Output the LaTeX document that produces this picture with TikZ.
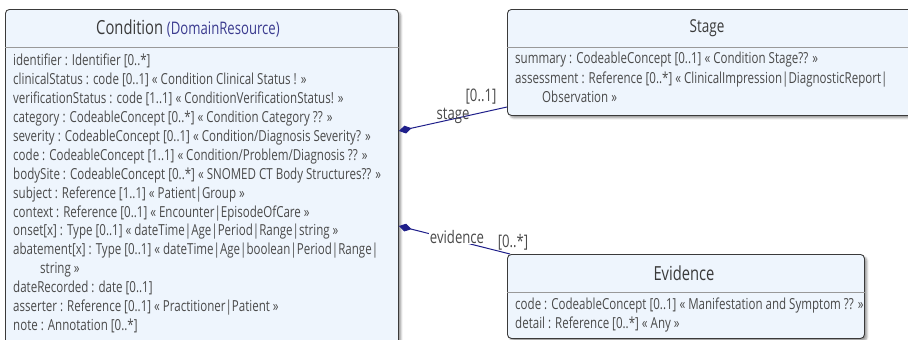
\documentclass[tikz,border=0pt]{standalone}
\usepackage{fontspec}
\setmainfont{Open Sans}[FakeStretch=0.76]
\usetikzlibrary{arrows.meta,shadows.blur}
\definecolor{boxfill}{HTML}{EEF5FD}
\definecolor{boxline}{HTML}{3A3A3A}
\definecolor{attrtext}{HTML}{4A4A4A}
\definecolor{assoccol}{HTML}{1F1F8A}
\definecolor{parentcol}{HTML}{3B3B8F}
\tikzset{
  umlbox/.style={draw=boxline, line width=0.9pt, fill=boxfill, rounded corners=4pt,
    anchor=north west, inner sep=0pt,
    blur shadow={shadow xshift=2.5pt, shadow yshift=-2.5pt, shadow blur steps=6, shadow blur radius=2pt}},
  divider/.style={draw=gray!80, line width=1pt},
  title/.style={font=\fontsize{19.4}{22}\selectfont, text=boxline},
  attrs/.style={anchor=north west, inner sep=0pt, align=left, text=attrtext,
    font=\fontsize{15.2}{18.9}\selectfont},
  assoc/.style={draw=assoccol, line width=1pt},
  rolelabel/.style={text=attrtext, font=\fontsize{17.3}{19}\selectfont, inner sep=0.5pt}
}
\begin{document}
\begin{tikzpicture}[x=1pt,y=-1pt]
  \useasboundingbox (0,0) rectangle (908,340);

  % classes
  \node[umlbox, minimum width=393pt, minimum height=341pt] (cond) at (5,9) {};
  \node[umlbox, minimum width=405pt, minimum height=106pt] (stage) at (507,9) {};
  \node[umlbox, minimum width=357pt, minimum height=84pt] (evid) at (507,254) {};

  \draw[divider] ([yshift=-38pt]cond.north west) -- ([yshift=-38pt]cond.north east);
  \draw[divider] ([yshift=-38pt]stage.north west) -- ([yshift=-38pt]stage.north east);
  \draw[divider] ([yshift=-38pt]evid.north west) -- ([yshift=-38pt]evid.north east);

  \node[title] (condT) at (188,28) {Condition {\fontsize{17.3}{20}\selectfont\color{parentcol}(DomainResource)}};
  \node[title, font=\fontsize{17.8}{21}\selectfont] (stageT) at (707,28) {Stage};
  \node[title] (evidT) at (684,273) {Evidence};

  \node[attrs] (condA) at (13,54) {identifier : Identifier [0..*]\\
    clinicalStatus : code [0..1] « Condition Clinical Status ! »\\
    verificationStatus : code [1..1] « ConditionVerificationStatus! »\\
    category : CodeableConcept [0..*] « Condition Category ?? »\\
    severity : CodeableConcept [0..1] « Condition/Diagnosis Severity? »\\
    code : CodeableConcept [1..1] « Condition/Problem/Diagnosis ?? »\\
    bodySite : CodeableConcept [0..*] « SNOMED CT Body Structures?? »\\
    subject : Reference [1..1] « Patient|Group »\\
    context : Reference [0..1] « Encounter|EpisodeOfCare »\\
    onset[x] : Type [0..1] « dateTime|Age|Period|Range|string »\\
    abatement[x] : Type [0..1] « dateTime|Age|boolean|Period|Range|\\
    \hspace*{27pt}string »\\
    dateRecorded : date [0..1]\\
    asserter : Reference [0..1] « Practitioner|Patient »\\
    note : Annotation [0..*]};

  \node[attrs, font=\fontsize{15.2}{19.5}\selectfont] (stageA) at (515,52) {summary : CodeableConcept [0..1] « Condition Stage?? »\\
    assessment : Reference [0..*] « ClinicalImpression|DiagnosticReport|\\
    \hspace*{27pt}Observation »};

  \node[attrs] (evidA) at (515,298) {code : CodeableConcept [0..1] « Manifestation and Symptom ?? »\\
    detail : Reference [0..*] « Any »};

  % associations
  \coordinate (condS) at ([yshift=-122pt]cond.north east);
  \coordinate (stageW) at ([yshift=-98pt]stage.north west);
  \coordinate (condE) at ([yshift=-217pt]cond.north east);
  \coordinate (evidN) at ([xshift=3pt]evid.north west);

  \draw[assoc, {Diamond[length=13pt,width=8pt]}-] (condS) -- (stageW);
  \draw[assoc, {Diamond[length=13pt,width=8pt]}-] (condE) -- (evidN);

  \node[rolelabel] (stageL) at (453,116) {stage};
  \node[rolelabel] (stageM) at (481,97) {[0..1]};
  \node[rolelabel, fill=white] (evidL) at (457,237) {evidence};
  \node[rolelabel] (evidM) at (513,242) {[0..*]};
\end{tikzpicture}
\end{document}
